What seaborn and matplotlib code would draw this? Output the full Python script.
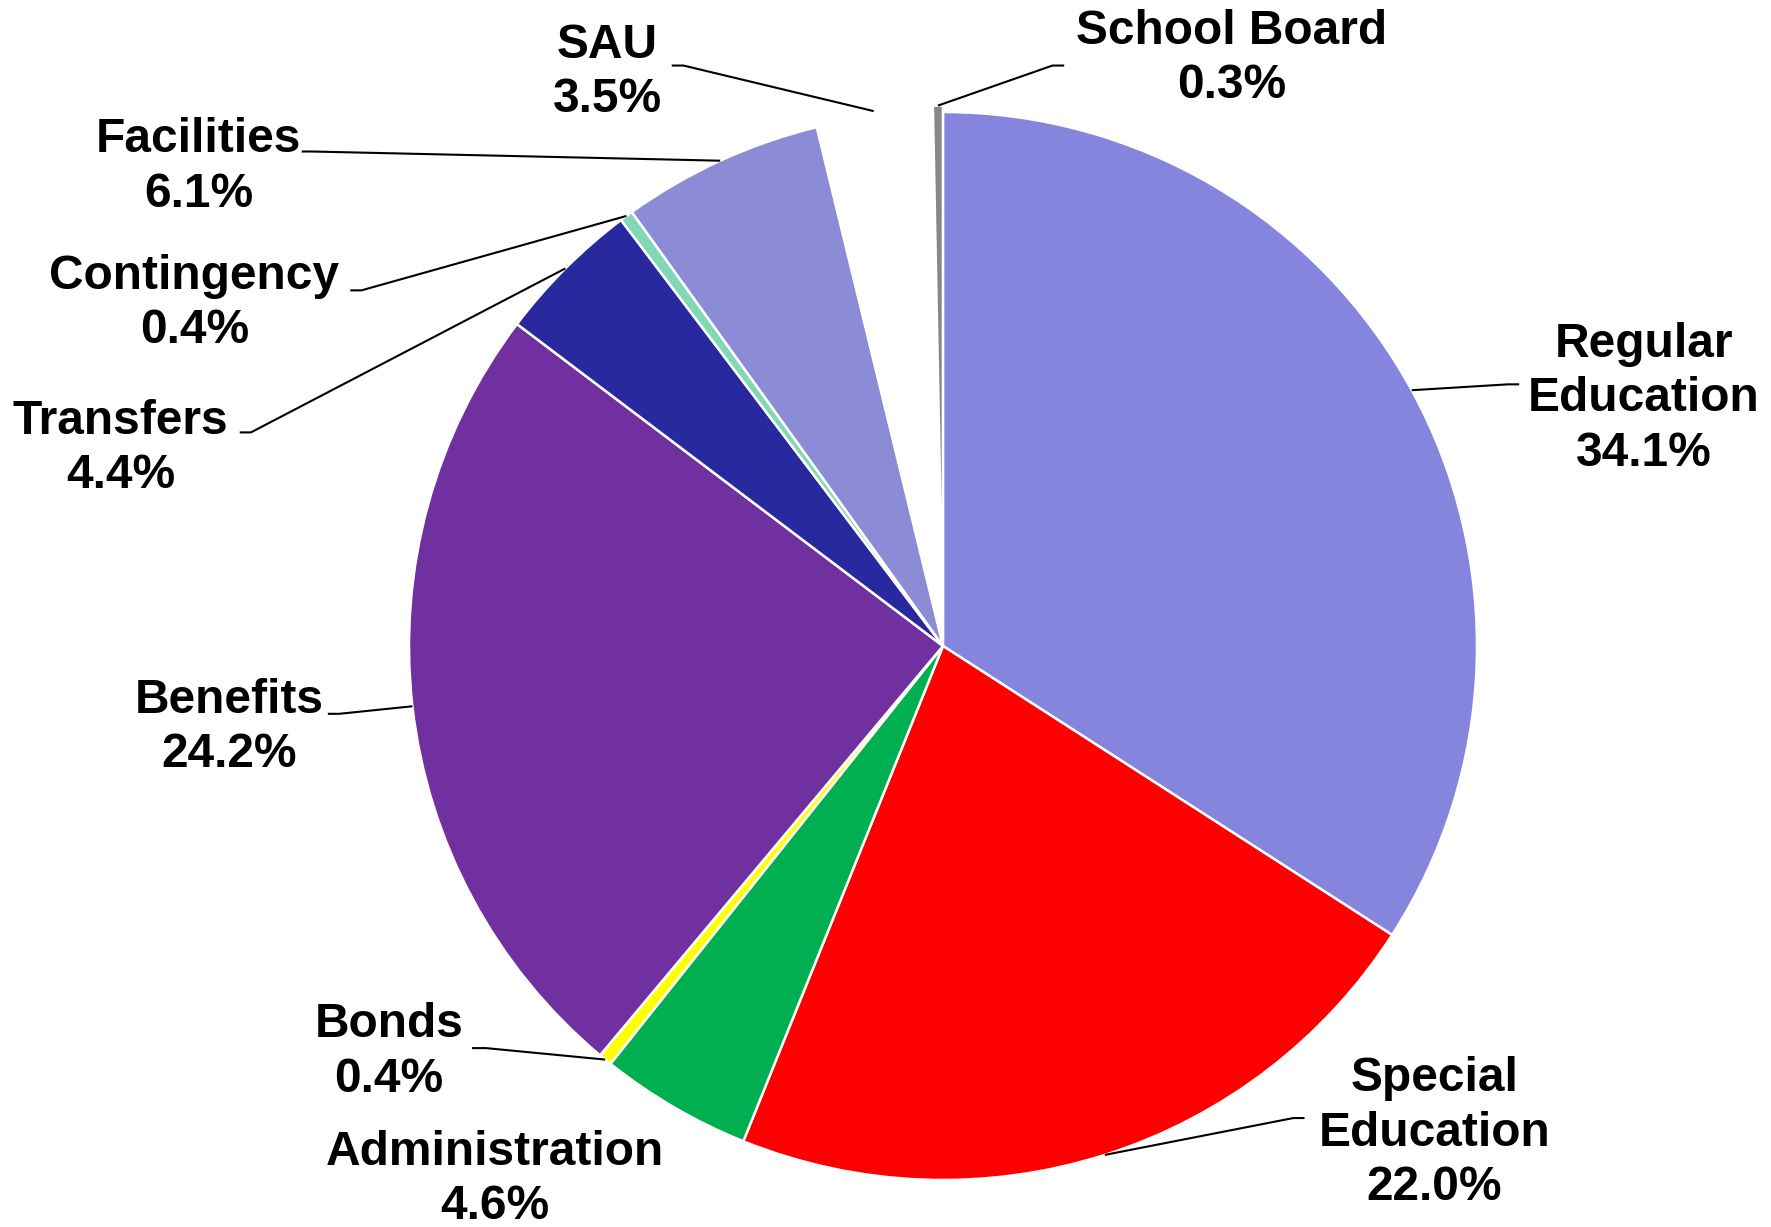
import numpy as np
import matplotlib
matplotlib.use("Agg")
import matplotlib.pyplot as plt
import seaborn as sns

categories = ["Regular\nEducation", "Special\nEducation", "Administration", "Bonds", "Benefits",
              "Transfers", "Contingency", "Facilities", "SAU", "School Board"]
values = [34.1, 22.0, 4.6, 0.4, 24.2, 4.4, 0.4, 6.1, 3.5, 0.3]
colors = ["#8585DD", "#FF0000", "#00AF50", "#FFFF00", "#7030A0",
          "#28289F", "#80D8B4", "#8B8BD6", "#FFFFFF", "#878787"]
explode = [0, 0, 0, 0, 0, 0, 0, 0, 0.01, 0.012]

# label centres (data units, radius = 1) and leader elbow/stub ends (None = no leader)
label_pos = [(1.312, 0.463), (0.920, -0.912), (-0.839, -0.999), (-1.038, -0.760), (-1.337, -0.153),
             (-1.540, 0.370), (-1.402, 0.641), (-1.394, 0.897), (-0.628, 1.074), (0.540, 1.100)]
elbow = [(1.058, 0.490), (0.656, -0.884), None, (-0.856, -0.753), (-1.131, -0.127),
         (-1.296, 0.400), (-1.089, 0.666), (-1.180, 0.926), (-0.486, 1.087), (0.205, 1.087)]
stub = [(1.079, 0.490), (0.677, -0.884), None, (-0.882, -0.753), (-1.152, -0.127),
        (-1.317, 0.400), (-1.110, 0.666), (-1.201, 0.926), (-0.508, 1.087), (0.227, 1.087)]

sns.set_theme(style="white")
plt.rcParams["font.family"] = ["Liberation Sans", "DejaVu Sans"]

W, H = 1771, 1227
fig = plt.figure(figsize=(W / 100, H / 100), dpi=100)
cx, cy, R = 943, 646, 534
ax = fig.add_axes([(cx - R) / W, (H - cy - R) / H, 2 * R / W, 2 * R / H])

wedges, _ = ax.pie(values, colors=colors, startangle=90, counterclock=False, explode=explode,
                   wedgeprops=dict(edgecolor="white", linewidth=1.8))
for w in wedges:
    w.set_clip_on(False)
ax.set_xlim(-1, 1)
ax.set_ylim(-1, 1)
ax.set_aspect("equal")
ax.axis("off")

for w, name, v, lp, el, st in zip(wedges, categories, values, label_pos, elbow, stub):
    mid = np.deg2rad((w.theta1 + w.theta2) / 2)
    px = w.center[0] + w.r * np.cos(mid)
    py = w.center[1] + w.r * np.sin(mid)
    if el is not None:
        ax.plot([px, el[0], st[0]], [py, el[1], st[1]], color="black", lw=1.5,
                clip_on=False, solid_capstyle="butt")
    ax.text(lp[0], lp[1], f"{name}\n{v:.1f}%", ha="center", va="center", fontsize=34.5,
            fontweight="bold", linespacing=1.27, color="black", clip_on=False)

fig.savefig("out.png", dpi=100)
